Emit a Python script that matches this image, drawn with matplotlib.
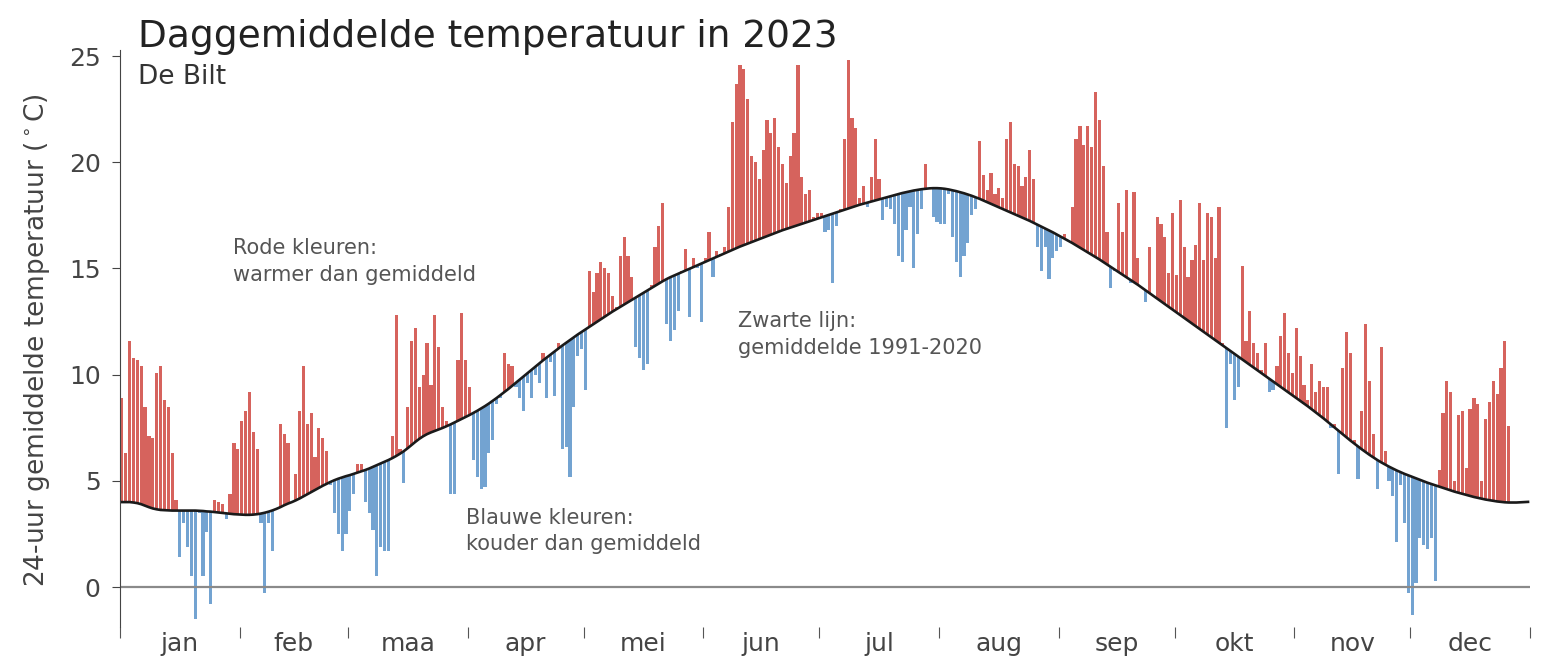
import numpy as np
import matplotlib
matplotlib.use("Agg")
from matplotlib import pyplot as plt

# daily mean temperature De Bilt 2023, per month
jan = [8.9, 6.3, 11.6, 10.8, 10.7, 10.4, 8.5, 7.1, 7.0, 10.1, 10.4, 8.8, 8.5, 6.3, 4.1,
       1.4, 3.0, 1.9, 0.5, -1.5, 3.5, 0.5, 2.6, -0.8, 4.1, 4.0, 3.9, 3.2, 4.4, 6.8, 6.5]
feb = [7.8, 8.3, 9.2, 7.3, 6.5, 3.0, -0.3, 3.0, 1.7, 3.7, 7.7, 7.2, 6.8, 4.0, 5.3,
       8.3, 10.4, 7.7, 8.2, 6.1, 7.5, 7.0, 6.4, 4.8, 3.5, 2.5, 1.7, 2.5]
maa = [3.6, 4.4, 5.8, 5.8, 4.0, 3.5, 2.7, 0.5, 1.9, 1.7, 1.7, 7.1, 12.8, 6.5, 4.9,
       8.5, 11.6, 12.2, 9.4, 10.0, 11.5, 9.5, 12.8, 11.3, 8.5, 7.8, 4.4, 4.4, 10.7, 12.9, 10.7]
apr = [9.4, 6.0, 5.2, 4.6, 4.7, 6.3, 6.9, 8.6, 8.9, 11.0, 10.5, 10.4, 9.4, 8.9, 8.3,
       9.6, 8.9, 10.0, 9.6, 11.0, 8.9, 10.6, 9.0, 11.5, 6.5, 6.6, 5.2, 8.5, 10.9, 11.2]
mei = [9.3, 14.9, 13.9, 14.8, 15.3, 15.0, 14.8, 13.7, 13.2, 15.6, 16.5, 15.6, 14.6, 11.3, 10.8,
       10.2, 10.5, 14.2, 16.0, 17.0, 18.1, 12.4, 11.6, 12.1, 13.0, 14.9, 15.9, 12.7, 15.5, 15.0, 12.5]
jun = [15.5, 16.7, 14.6, 15.8, 15.7, 16.0, 17.9, 21.9, 23.7, 24.6, 24.4, 23.0, 20.3, 20.0, 19.2,
       20.6, 22.0, 21.4, 22.1, 20.7, 19.9, 19.0, 20.3, 21.4, 24.6, 19.3, 18.5, 18.7, 17.4, 17.6]
jul = [17.6, 16.7, 16.8, 14.3, 17.0, 17.8, 21.1, 24.8, 22.1, 21.6, 18.3, 18.9, 17.9, 19.3, 21.1,
       19.2, 17.3, 17.9, 17.8, 17.1, 15.6, 15.3, 16.8, 17.9, 15.0, 16.6, 17.8, 19.9, 18.8, 17.4, 17.2]
aug = [17.1, 17.1, 18.5, 16.5, 15.3, 14.6, 15.6, 16.2, 17.5, 17.8, 21.0, 19.4, 18.7, 19.5, 18.5,
       18.8, 18.3, 21.1, 21.9, 19.9, 19.8, 18.9, 19.3, 20.6, 19.2, 16.0, 14.9, 16.0, 14.5, 15.5, 15.8]
sep = [16.0, 16.6, 16.3, 17.9, 21.1, 21.7, 20.8, 21.7, 20.7, 23.3, 22.0, 19.8, 16.7, 14.1, 14.9,
       18.1, 16.7, 18.7, 14.3, 18.6, 15.5, 14.1, 13.4, 16.0, 13.7, 17.4, 17.1, 16.5, 14.8, 17.6]
okt = [14.7, 18.2, 16.0, 14.6, 15.4, 16.1, 18.1, 15.4, 17.6, 17.4, 15.5, 17.9, 11.5, 7.5, 10.5,
       8.8, 9.4, 15.1, 11.6, 13.0, 11.5, 11.0, 10.2, 11.5, 9.2, 9.3, 10.4, 11.8, 12.9, 11.0, 10.1]
nov = [12.2, 10.9, 9.5, 8.8, 10.5, 9.2, 9.7, 9.4, 9.4, 7.5, 7.7, 5.3, 10.3, 12.0, 11.0,
       6.9, 5.1, 8.3, 12.4, 9.7, 7.2, 4.6, 11.3, 6.4, 5.0, 4.3, 2.1, 4.8, 3.0, -0.3]
dec = [-1.3, 0.2, 2.3, 2.0, 1.8, 2.3, 0.3, 5.5, 8.2, 9.7, 9.2, 5.0, 8.1, 8.3, 5.6,
       8.4, 8.9, 8.6, 5.0, 7.9, 8.7, 9.7, 9.1, 10.3, 11.6, 7.6, None, None, None, None, None]

# normal 1991-2020 (black line), per month
n_jan = [4.0, 4.0, 4.0, 3.98, 3.95, 3.9, 3.83, 3.76, 3.7, 3.66, 3.63, 3.62, 3.61, 3.6, 3.6, 3.6,
         3.6, 3.6, 3.6, 3.6, 3.59, 3.58, 3.56, 3.55, 3.53, 3.51, 3.49, 3.47, 3.45, 3.43, 3.42]
n_feb = [3.41, 3.4, 3.4, 3.41, 3.43, 3.46, 3.5, 3.55, 3.61, 3.68, 3.76, 3.85, 3.93, 4.0, 4.08, 4.17,
         4.27, 4.37, 4.47, 4.57, 4.67, 4.77, 4.86, 4.95, 5.03, 5.1, 5.16, 5.22]
n_maa = [5.27, 5.33, 5.39, 5.45, 5.51, 5.58, 5.66, 5.74, 5.82, 5.9, 5.98, 6.07, 6.17, 6.28, 6.4, 6.54,
         6.69, 6.84, 6.98, 7.1, 7.2, 7.28, 7.35, 7.42, 7.49, 7.57, 7.65, 7.74, 7.83, 7.92, 8.01]
n_apr = [8.1, 8.2, 8.3, 8.41, 8.52, 8.64, 8.77, 8.9, 9.04, 9.18, 9.32, 9.47, 9.62, 9.77, 9.92,
         10.07, 10.22, 10.37, 10.52, 10.67, 10.81, 10.95, 11.09, 11.23, 11.37, 11.5, 11.63, 11.76, 11.89, 12.01]
n_mei = [12.13, 12.25, 12.37, 12.49, 12.61, 12.73, 12.85, 12.97, 13.08, 13.19, 13.3, 13.41, 13.52, 13.63,
         13.74, 13.85, 13.96, 14.07, 14.18, 14.29, 14.4, 14.5, 14.59, 14.67, 14.75, 14.83, 14.91, 14.99,
         15.07, 15.15, 15.23]
n_jun = [15.31, 15.39, 15.47, 15.55, 15.63, 15.71, 15.79, 15.87, 15.95, 16.03, 16.1, 16.17, 16.24, 16.31,
         16.38, 16.45, 16.52, 16.59, 16.66, 16.73, 16.8, 16.86, 16.92, 16.98, 17.04, 17.1, 17.16, 17.22,
         17.28, 17.34]
n_jul = [17.4, 17.46, 17.52, 17.58, 17.64, 17.7, 17.76, 17.82, 17.88, 17.94, 18.0, 18.05, 18.1, 18.15,
         18.2, 18.25, 18.3, 18.35, 18.4, 18.45, 18.5, 18.55, 18.59, 18.63, 18.67, 18.7, 18.73, 18.75,
         18.77, 18.78, 18.78]
n_aug = [18.77, 18.75, 18.72, 18.68, 18.64, 18.59, 18.54, 18.48, 18.42, 18.35, 18.28, 18.2, 18.12,
         18.04, 17.96, 17.88, 17.8, 17.72, 17.64, 17.56, 17.48, 17.4, 17.32, 17.24, 17.15, 17.06, 16.97,
         16.88, 16.79, 16.7, 16.6]
n_sep = [16.5, 16.4, 16.3, 16.2, 16.09, 15.98, 15.87, 15.76, 15.65, 15.54, 15.43, 15.31, 15.19, 15.07,
         14.95, 14.83, 14.71, 14.59, 14.47, 14.35, 14.23, 14.1, 13.97, 13.84, 13.71, 13.58, 13.45, 13.32,
         13.19, 13.06]
n_okt = [12.93, 12.8, 12.67, 12.54, 12.41, 12.28, 12.15, 12.02, 11.89, 11.76, 11.63, 11.5, 11.37, 11.24,
         11.11, 10.98, 10.85, 10.72, 10.59, 10.46, 10.33, 10.2, 10.07, 9.94, 9.81, 9.68, 9.55, 9.42,
         9.29, 9.16, 9.03]
n_nov = [8.9, 8.77, 8.64, 8.51, 8.37, 8.23, 8.09, 7.95, 7.8, 7.65, 7.5, 7.35, 7.2, 7.05, 6.9,
         6.76, 6.62, 6.48, 6.35, 6.22, 6.1, 5.98, 5.87, 5.77, 5.67, 5.58, 5.49, 5.41, 5.33, 5.26]
n_dec = [5.19, 5.12, 5.05, 4.98, 4.91, 4.85, 4.79, 4.73, 4.67, 4.61, 4.55, 4.49, 4.44, 4.39, 4.34, 4.29,
         4.24, 4.2, 4.16, 4.12, 4.09, 4.06, 4.03, 4.01, 3.99, 3.98, 3.98, 3.98, 3.99, 4.0, 4.01]

maanden = ["jan", "feb", "maa", "apr", "mei", "jun", "jul", "aug", "sep", "okt", "nov", "dec"]

temp = np.array([np.nan if v is None else v for m in
                 [jan, feb, maa, apr, mei, jun, jul, aug, sep, okt, nov, dec] for v in m], dtype=float)
normaal = np.array(n_jan + n_feb + n_maa + n_apr + n_mei + n_jun + n_jul + n_aug
                   + n_sep + n_okt + n_nov + n_dec, dtype=float)
dagen = np.arange(len(temp)) + 0.5
lengtes = [len(m) for m in [jan, feb, maa, apr, mei, jun, jul, aug, sep, okt, nov, dec]]
grenzen = np.concatenate([[0], np.cumsum(lengtes)])
midden = (grenzen[:-1] + grenzen[1:]) / 2

afwijking = temp - normaal
ok = ~np.isnan(temp)
kleuren = np.where(afwijking > 0, "#d6635d", "#73a3d1")

fig = plt.figure(figsize=(15.58, 6.58), dpi=100)
ax = fig.add_axes([0.077, 0.0465, 0.905, 0.878])

ax.bar(dagen[ok], afwijking[ok], bottom=normaal[ok], width=0.82,
       color=kleuren[ok], linewidth=0)
ax.plot(dagen, normaal, color="#1a1a1a", lw=1.9)
ax.axhline(0, color="#8a8a8a", lw=1.6)

ax.set_xlim(0, 365)
ax.set_ylim(-1.9, 25.3)
ax.set_yticks([0, 5, 10, 15, 20, 25])
ax.tick_params(axis="y", labelsize=18, colors="#444444", length=6, pad=8)

ax.set_xticks(grenzen)
ax.set_xticklabels([])
ax.set_xticks(midden, minor=True)
ax.set_xticklabels(maanden, minor=True)
ax.tick_params(axis="x", which="major", length=8, color="#555555", direction="out")
ax.tick_params(axis="x", which="minor", length=0, labelsize=18, labelcolor="#444444", pad=3)

for s in ["top", "right", "bottom"]:
    ax.spines[s].set_visible(False)
ax.spines["left"].set_color("#444444")

fig.text(0.0235, 0.483, "24-uur gemiddelde temperatuur ($^\\circ$C)", rotation=90,
         ha="center", va="center", fontsize=19, color="#444444")

fig.text(0.0886, 1 - 47 / 658, "Daggemiddelde temperatuur in 2023", fontsize=27,
         color="#222222", va="baseline")
fig.text(0.0886, 1 - 84 / 658, "De Bilt", fontsize=19, color="#333333", va="baseline")

tekst = dict(fontsize=15, color="#555555", va="top", ha="left", linespacing=1.4)
fig.text(0.1496, 0.638, "Rode kleuren:\nwarmer dan gemiddeld", **tekst)
fig.text(0.299, 0.228, "Blauwe kleuren:\nkouder dan gemiddeld", **tekst)
fig.text(0.4737, 0.527, "Zwarte lijn:\ngemiddelde 1991-2020", **tekst)

fig.savefig("out.png", dpi=100)
